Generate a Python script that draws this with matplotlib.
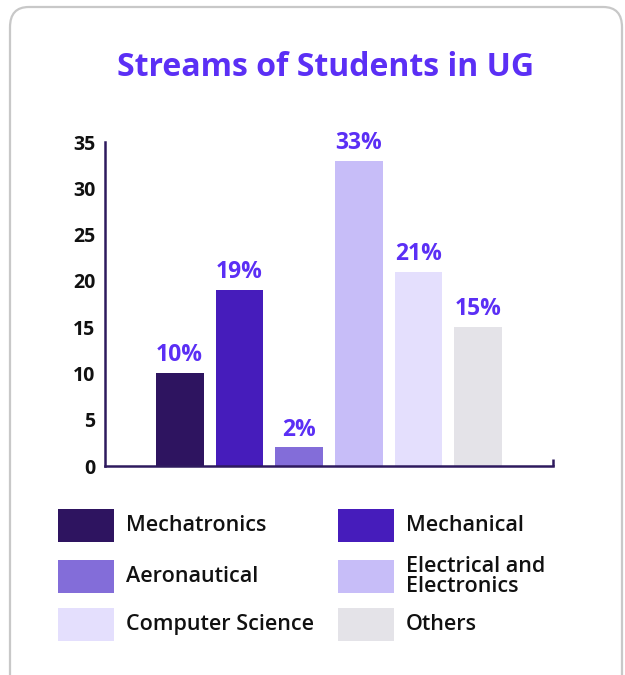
import matplotlib
matplotlib.use("Agg")
import matplotlib.pyplot as plt
from matplotlib.patches import FancyBboxPatch, Rectangle

categories = ["Mechatronics", "Mechanical", "Aeronautical",
              "Electrical and\nElectronics", "Computer Science", "Others"]
values = [10, 19, 2, 33, 21, 15]
value_labels = ["10%", "19%", "2%", "33%", "21%", "15%"]
colors = ["#2e1460", "#461cbb", "#836dd9", "#c7bdf8", "#e4dffd", "#e4e3e8"]
yticks = [0, 5, 10, 15, 20, 25, 30, 35]
title = "Streams of Students in UG"

FONT = "Open Sans"
plt.rcParams['font.family'] = [FONT, 'DejaVu Sans']
AXIS_C = "#2e1a5e"
ACCENT = "#5b2ff5"
W, H = 625, 675

fig = plt.figure(figsize=(6.25, 6.75), dpi=100)
fig.patch.set_facecolor("white")

card = FancyBboxPatch((10/W, -0.05), 612/W, 0.05 + (H-7)/H,
                      boxstyle="round,pad=0,rounding_size=0.03",
                      transform=fig.transFigure, facecolor="white",
                      edgecolor="#c8c8c8", linewidth=1.6, zorder=-5)
fig.patches.append(card)

fig.text(326/W, 1 - 76/H, title, ha="center", va="baseline",
         fontsize=23, fontweight="bold", color=ACCENT)

ax = fig.add_axes([105/W, (H-466)/H, (553-105)/W, (466-142)/H])
ax.set_zorder(2)
ax.set_facecolor("none")
x = list(range(len(values)))
bars = ax.bar(x, values, width=0.8, color=colors, zorder=2)
for xi, v, lab in zip(x, values, value_labels):
    ax.annotate(lab, (xi, v), xytext=(0, 8.6), textcoords="offset points",
                ha="center", va="baseline", fontsize=16.5, fontweight="bold",
                color=ACCENT)

ax.set_xlim(-1.25, 6.25)
ax.set_ylim(0, 35)
ax.set_yticks(yticks)
ax.set_yticklabels([str(t) for t in yticks], fontsize=14, fontweight="bold",
                   color="#111111")
ax.tick_params(axis="y", length=0, pad=7)
ax.set_xticks([])
for s in ["top", "right"]:
    ax.spines[s].set_visible(False)
for s in ["left", "bottom"]:
    ax.spines[s].set_color(AXIS_C)
    ax.spines[s].set_linewidth(1.8)
ax.plot([1, 1], [0, 0.022], transform=ax.transAxes, color=AXIS_C,
        linewidth=1.8, clip_on=False, solid_capstyle="butt")

# legend laid out as a 3x2 grid (row-wise order)
col_x = [58, 338]
row_y = [509, 560, 608]
sw_w, sw_h = 56, 33
for i, (lab, c) in enumerate(zip(categories, colors)):
    r, cidx = divmod(i, 2)
    x0, y0 = col_x[cidx], row_y[r]
    fig.patches.append(Rectangle((x0/W, 1 - (y0+sw_h)/H), sw_w/W, sw_h/H,
                                 transform=fig.transFigure, facecolor=c,
                                 edgecolor="none", zorder=1))
    fig.text((x0 + sw_w + 12)/W, 1 - (y0 + sw_h/2)/H, lab, ha="left",
             va="center", fontsize=15.5, fontweight="semibold",
             color="#111111", linespacing=0.95)

fig.savefig("out.png", dpi=100, facecolor="white")
